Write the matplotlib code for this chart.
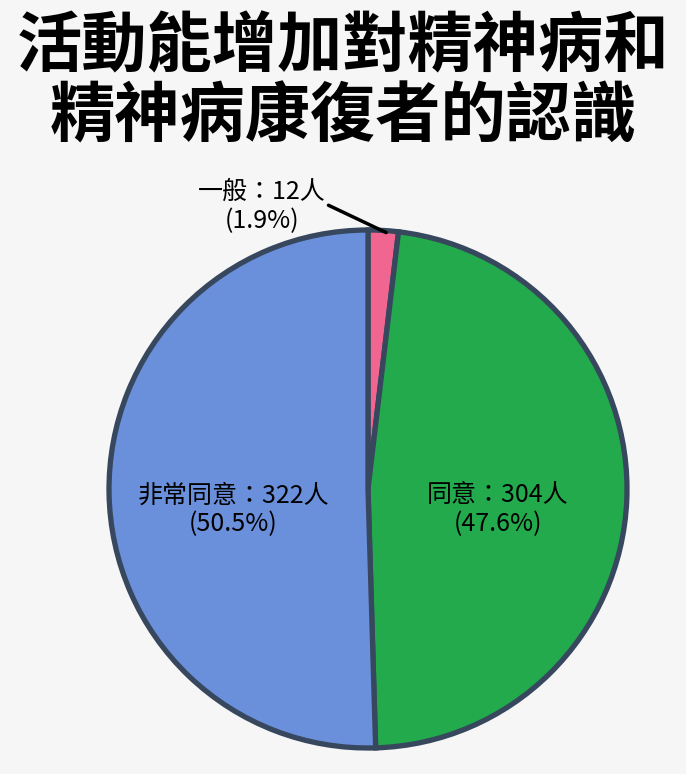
import matplotlib
matplotlib.use("Agg")
import matplotlib.pyplot as plt

plt.rcParams['font.family'] = ['Noto Sans CJK TC', 'DejaVu Sans']

title = "活動能增加對精神病和\n精神病康復者的認識"
categories = ["一般", "同意", "非常同意"]
counts = [12, 304, 322]
colors = ["#f06690", "#22aa4c", "#6a8fdb"]
edge = "#37475e"

total = sum(counts)
pcts = [c / total * 100 for c in counts]

fig = plt.figure(figsize=(6.86, 7.74), dpi=100, facecolor="#f6f6f6")
line1, line2 = title.split("\n")
fig.text(0.5, 0.939, line1, ha="center", va="center", fontsize=47, fontweight="bold")
fig.text(0.5, 0.849, line2, ha="center", va="center", fontsize=47, fontweight="bold")

cx, cy, r = 368, 489, 259
ax = fig.add_axes([(cx - r) / 686, (774 - cy - r) / 774, 2 * r / 686, 2 * r / 774])
ax.set_facecolor("#f6f6f6")
wedges, _ = ax.pie(counts, colors=colors, startangle=90, counterclock=False,
                   wedgeprops=dict(edgecolor=edge, linewidth=3.8))
ax.set_xlim(-1, 1)
ax.set_ylim(-1, 1)
ax.set_aspect("equal")
ax.axis("off")

labels = ["%s：%d人\n(%.1f%%)" % (c, n, p) for c, n, p in zip(categories, counts, pcts)]
ax.text(0.5, -0.08, labels[1], ha="center", va="center", fontsize=18, linespacing=1.15)
ax.text(-0.52, -0.08, labels[2], ha="center", va="center", fontsize=18, linespacing=1.15)
ax.annotate(labels[0], xy=(0.07, 0.99), xytext=(-0.41, 1.09),
            ha="center", va="center", fontsize=18, linespacing=1.15,
            arrowprops=dict(arrowstyle="-", color="black", lw=2.5,
                            shrinkA=0, shrinkB=0,
                            relpos=(1.0, 0.55)),
            annotation_clip=False)

fig.savefig("out.png", dpi=100, facecolor=fig.get_facecolor())
